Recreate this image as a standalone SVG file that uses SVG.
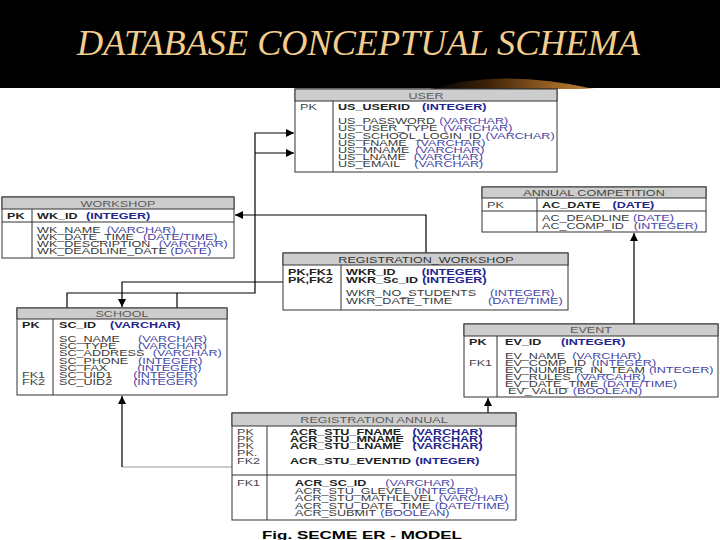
<svg xmlns="http://www.w3.org/2000/svg" width="720" height="540" viewBox="0 0 720 540">
<style>
.box{fill:#fff;stroke:#333;stroke-width:1}
.hdr{fill:#cdcdcd;stroke:#333;stroke-width:1}
.ln{stroke:#333;stroke-width:1}
.f{font-family:"Liberation Sans",Arial,sans-serif;font-size:9px;fill:#3a3a3a}
.b{font-weight:bold;fill:#222}
.ty{fill:#4545a5}
.bt{fill:#24248c}
.h{text-anchor:middle;fill:#5a5a5a}
.lab{fill:#444}
.c{fill:none;stroke:#000;stroke-width:1.2}
.cg{fill:none;stroke:#999;stroke-width:1.2}
</style>
<defs>
<marker id="ah" viewBox="0 0 10 10" refX="10" refY="5" markerWidth="9" markerHeight="8" markerUnits="userSpaceOnUse" orient="auto"><path d="M0,0 L10,5 L0,10 z" fill="#000"/></marker>
<linearGradient id="sw" x1="0" x2="1" y1="0" y2="0"><stop offset="0" stop-color="#000"/><stop offset="0.35" stop-color="#3e2208"/><stop offset="0.75" stop-color="#9a6424"/><stop offset="0.92" stop-color="#b27a36"/><stop offset="1" stop-color="#c89a60" stop-opacity="0.3"/></linearGradient>
</defs>
<rect x="0" y="0" width="720" height="540" fill="#fff"/>
<g id="title">
<rect x="0" y="0" width="720" height="88" fill="#000"/>
<path d="M430,89 Q500,68 595,89 Z" fill="url(#sw)"/>
<text x="77" y="55" font-family="Liberation Serif, Times New Roman, serif" font-style="italic" font-size="36" fill="#f3cd8e" textLength="563" lengthAdjust="spacingAndGlyphs">DATABASE CONCEPTUAL SCHEMA</text>
</g>

<g id="connectors">
<path class="c" d="M426,253 V215 H235" marker-end="url(#ah)"/>
<path class="c" d="M283,282 H122 V307" marker-end="url(#ah)"/>
<path class="c" d="M67,308 V293 H255 V133 H294" marker-end="url(#ah)"/>
<path class="c" d="M177,308 V293"/>
<path class="c" d="M255,153 H294" marker-end="url(#ah)"/>
<path class="c" d="M634,324 V233" marker-end="url(#ah)"/>
<path class="c" d="M488,413 V398" marker-end="url(#ah)"/>
<path class="cg" d="M232,467 H122"/>
<path class="c" d="M122,467 V396" marker-end="url(#ah)"/>
</g>

<g id="user">
<rect class="box" x="295" y="89" width="262" height="83"/>
<rect class="hdr" x="295" y="89" width="262" height="12"/>
<line class="ln" x1="333" y1="101" x2="333" y2="172"/>
<text class="f h" transform="translate(426 98.5) scale(1.4 1)">USER</text>
<text class="f lab" transform="translate(300 110) scale(1.4 1)">PK</text>
<text class="f b" transform="translate(338 110) scale(1.4 1)">US_USERID<tspan class="bt" dx="8.6">(INTEGER)</tspan></text>
<text class="f" transform="translate(338 124) scale(1.4 1)">US_PASSWORD<tspan class="ty" dx="3">(VARCHAR)</tspan></text>
<text class="f" transform="translate(338 131) scale(1.4 1)">US_USER_TYPE<tspan class="ty" dx="4.3">(VARCHAR)</tspan></text>
<text class="f" transform="translate(338 139) scale(1.4 1)">US_SCHOOL_LOGIN_ID<tspan class="ty" dx="3">(VARCHAR)</tspan></text>
<text class="f" transform="translate(338 146) scale(1.4 1)">US_FNAME<tspan class="ty" dx="7">(VARCHAR)</tspan></text>
<text class="f" transform="translate(338 153) scale(1.4 1)">US_MNAME<tspan class="ty" dx="4.3">(VARCHAR)</tspan></text>
<text class="f" transform="translate(338 160) scale(1.4 1)">US_LNAME<tspan class="ty" dx="5.7">(VARCHAR)</tspan></text>
<text class="f" transform="translate(338 167) scale(1.4 1)">US_EMAIL<tspan class="ty" dx="10">(VARCHAR)</tspan></text>
</g>

<g id="workshop">
<rect class="box" x="2" y="197" width="232" height="61"/>
<rect class="hdr" x="2" y="197" width="232" height="12"/>
<line class="ln" x1="2" y1="222" x2="234" y2="222"/>
<line class="ln" x1="32" y1="209" x2="32" y2="258"/>
<text class="f h" transform="translate(118 206.5) scale(1.4 1)">WORKSHOP</text>
<text class="f b" transform="translate(7 219) scale(1.4 1)">PK</text>
<text class="f b" transform="translate(37 219) scale(1.4 1)">WK_ID<tspan class="bt" dx="6">(INTEGER)</tspan></text>
<text class="f" transform="translate(37 233) scale(1.4 1)">WK_NAME<tspan class="ty" dx="4.3">(VARCHAR)</tspan></text>
<text class="f" transform="translate(37 240) scale(1.4 1)">WK_DATE_TIME<tspan class="ty" dx="6.4">(DATE/TIME)</tspan></text>
<text class="f" transform="translate(37 247) scale(1.4 1)">WK_DESCRIPTION<tspan class="ty" dx="6">(VARCHAR)</tspan></text>
<text class="f" transform="translate(37 254) scale(1.4 1)">WK_DEADLINE_DATE<tspan class="ty" dx="2.5">(DATE)</tspan></text>
</g>

<g id="annual_competition">
<rect class="box" x="482" y="187" width="224" height="45"/>
<rect class="hdr" x="482" y="187" width="224" height="11"/>
<line class="ln" x1="482" y1="211" x2="706" y2="211"/>
<line class="ln" x1="537" y1="198" x2="537" y2="232"/>
<text class="f h" style="fill:#444" transform="translate(594 196) scale(1.4 1)">ANNUAL COMPETITION</text>
<text class="f lab" transform="translate(487 207.5) scale(1.4 1)">PK</text>
<text class="f b" transform="translate(542 207.5) scale(1.4 1)">AC_DATE<tspan class="bt" dx="8.6">(DATE)</tspan></text>
<text class="f" transform="translate(542 221) scale(1.4 1)">AC_DEADLINE<tspan class="ty" dx="2.5">(DATE)</tspan></text>
<text class="f" transform="translate(542 228.5) scale(1.4 1)">AC_COMP_ID<tspan class="ty" dx="7">(INTEGER)</tspan></text>
</g>

<g id="registration_workshop">
<rect class="box" x="283" y="253" width="285" height="57"/>
<rect class="hdr" x="283" y="253" width="285" height="12"/>
<line class="ln" x1="341" y1="265" x2="341" y2="310"/>
<text class="f h" style="fill:#333" transform="translate(426 262.5) scale(1.4 1)">REGISTRATION_WORKSHOP</text>
<text class="f b" transform="translate(288 275) scale(1.4 1)">PK,FK1</text>
<text class="f b" transform="translate(288 282.5) scale(1.4 1)">PK,FK2</text>
<text class="f b" transform="translate(346 275) scale(1.4 1)">WKR_ID<tspan class="bt" dx="18.7">(INTEGER)</tspan></text>
<text class="f b" transform="translate(346 282.5) scale(1.4 1)">WKR_Sc_ID<tspan class="bt" dx="3">(INTEGER)</tspan></text>
<text class="f" transform="translate(346 296) scale(1.4 1)">WKR_NO_STUDENTS<tspan class="ty" dx="10">(INTEGER)</tspan></text>
<text class="f" transform="translate(346 304) scale(1.4 1)">WKR_DATE_TIME<tspan class="ty" dx="25.7">(DATE/TIME)</tspan></text>
</g>

<g id="school">
<rect class="box" x="17" y="308" width="210" height="87"/>
<rect class="hdr" x="17" y="308" width="210" height="11"/>
<line class="ln" x1="53" y1="319" x2="53" y2="395"/>
<text class="f h" transform="translate(122 317) scale(1.4 1)">SCHOOL</text>
<text class="f b" transform="translate(22 328) scale(1.4 1)">PK</text>
<text class="f b" transform="translate(59 328) scale(1.4 1)">SC_ID<tspan class="bt" dx="10">(VARCHAR)</tspan></text>
<text class="f" transform="translate(59 342) scale(1.4 1)">SC_NAME<tspan class="ty" dx="13">(VARCHAR)</tspan></text>
<text class="f" transform="translate(59 349) scale(1.4 1)">SC_TYPE<tspan class="ty" dx="15.4">(VARCHAR)</tspan></text>
<text class="f" transform="translate(59 356) scale(1.4 1)">SC_ADDRESS<tspan class="ty" dx="6">(VARCHAR)</tspan></text>
<text class="f" transform="translate(59 364) scale(1.4 1)">SC_PHONE<tspan class="ty" dx="7">(INTEGER)</tspan></text>
<text class="f" transform="translate(59 371) scale(1.4 1)">SC_FAX<tspan class="ty" dx="21.4">(INTEGER)</tspan></text>
<text class="f lab" transform="translate(22 378) scale(1.4 1)">FK1</text>
<text class="f" transform="translate(59 378) scale(1.4 1)">SC_UID1<tspan class="ty" dx="15">(INTEGER)</tspan></text>
<text class="f lab" transform="translate(22 385) scale(1.4 1)">FK2</text>
<text class="f" transform="translate(59 385) scale(1.4 1)">SC_UID2<tspan class="ty" dx="15">(INTEGER)</tspan></text>
</g>

<g id="event">
<rect class="box" x="464" y="324" width="254" height="73"/>
<rect class="hdr" x="464" y="324" width="254" height="12"/>
<line class="ln" x1="497" y1="336" x2="497" y2="397"/>
<text class="f h" transform="translate(591 333) scale(1.4 1)">EVENT</text>
<text class="f b" transform="translate(469 345) scale(1.4 1)">PK</text>
<text class="f b" transform="translate(505 345) scale(1.4 1)">EV_ID<tspan class="bt" dx="14">(INTEGER)</tspan></text>
<text class="f" transform="translate(505 359) scale(1.4 1)">EV_NAME<tspan class="ty" dx="5">(VARCHAR)</tspan></text>
<text class="f lab" transform="translate(469 366) scale(1.4 1)">FK1</text>
<text class="f" transform="translate(505 366) scale(1.4 1)">EV_COMP_ID<tspan class="ty" dx="4">(INTEGER)</tspan></text>
<text class="f" transform="translate(505 373) scale(1.4 1)">EV_NUMBER_IN_TEAM<tspan class="ty" dx="3">(INTEGER)</tspan></text>
<text class="f" transform="translate(505 380) scale(1.4 1)">EV_RULES<tspan class="ty" dx="4">(VARCAHR)</tspan></text>
<text class="f" transform="translate(505 387) scale(1.4 1)">EV_DATE_TIME<tspan class="ty" dx="3">(DATE/TIME)</tspan></text>
<text class="f" transform="translate(508 394) scale(1.4 1)">EV_VALID<tspan class="ty" dx="4">(BOOLEAN)</tspan></text>
</g>

<g id="registration_annual">
<rect class="box" x="232" y="413" width="284" height="107"/>
<rect class="hdr" x="232" y="413" width="284" height="13"/>
<line class="ln" x1="267" y1="426" x2="267" y2="520"/>
<line class="ln" x1="232" y1="475" x2="516" y2="475"/>
<text class="f h" transform="translate(374 423) scale(1.4 1)">REGISTRATION ANNUAL</text>
<text class="f lab" transform="translate(237 435) scale(1.4 1)">PK</text>
<text class="f lab" transform="translate(237 442) scale(1.4 1)">PK</text>
<text class="f lab" transform="translate(237 449) scale(1.4 1)">PK</text>
<text class="f lab" transform="translate(237 456) scale(1.4 1)">PK.</text>
<text class="f lab" transform="translate(237 464) scale(1.4 1)">FK2</text>
<text class="f b" transform="translate(290 435) scale(1.4 1)">ACR_STU_FNAME<tspan class="bt" dx="8">(VARCHAR)</tspan></text>
<text class="f b" transform="translate(290 442) scale(1.4 1)">ACR_STU_MNAME<tspan class="bt" dx="5.7">(VARCHAR)</tspan></text>
<text class="f b" transform="translate(290 449) scale(1.4 1)">ACR_STU_LNAME<tspan class="bt" dx="8">(VARCHAR)</tspan></text>
<text class="f b" transform="translate(290 464) scale(1.4 1)">ACR_STU_EVENTID<tspan class="bt" dx="3">(INTEGER)</tspan></text>
<text class="f lab" transform="translate(237 486) scale(1.4 1)">FK1</text>
<text class="f b" transform="translate(295 486) scale(1.4 1)">ACR_SC_ID<tspan class="ty" style="font-weight:normal" dx="13.6">(VARCHAR)</tspan></text>
<text class="f" transform="translate(295 494) scale(1.4 1)">ACR_STU_GLEVEL<tspan class="ty" dx="3">(INTEGER)</tspan></text>
<text class="f" transform="translate(295 501) scale(1.4 1)">ACR_STU_MATHLEVEL<tspan class="ty" dx="3">(VARCHAR)</tspan></text>
<text class="f" transform="translate(295 509) scale(1.4 1)">ACR_STU_DATE_TIME<tspan class="ty" dx="3">(DATE/TIME)</tspan></text>
<text class="f" transform="translate(295 516) scale(1.4 1)">ACR_SUBMIT<tspan class="ty" dx="3">(BOOLEAN)</tspan></text>
</g>

<text x="262" y="538.5" font-family="Liberation Sans, Arial, sans-serif" font-weight="bold" font-size="11.5" fill="#000" textLength="200" lengthAdjust="spacingAndGlyphs">Fig. SECME ER - MODEL</text>
</svg>
